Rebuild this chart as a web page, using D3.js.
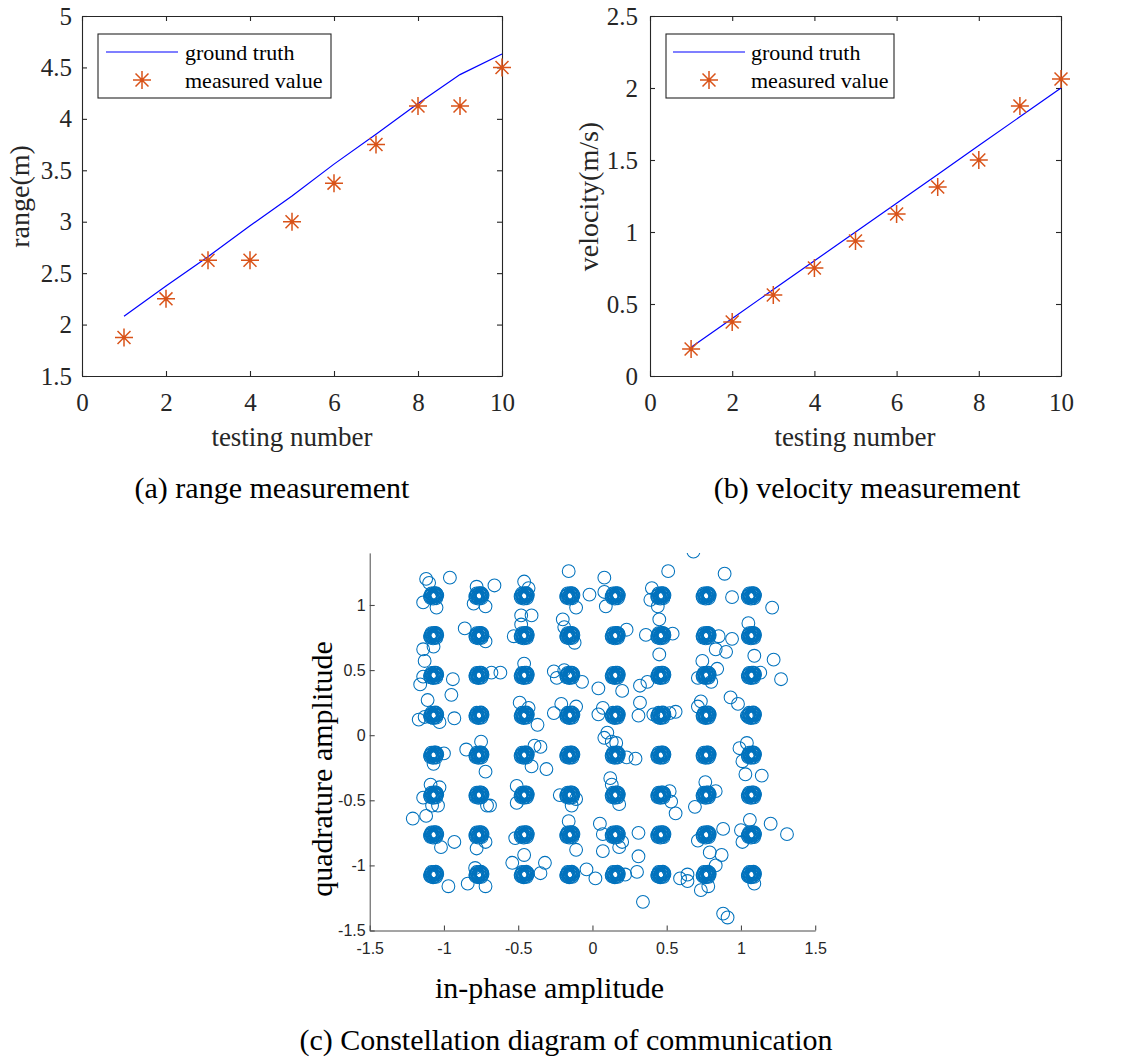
<!DOCTYPE html>
<html><head><meta charset="utf-8">
<script src="https://cdn.jsdelivr.net/npm/d3@7"></script>
<style>body{margin:0;background:#fff}svg{display:block}</style>
</head><body>
<svg id="fig" width="1132" height="1059"></svg>
<script>
// ---------- data ----------
const testNumbers = [1,2,3,4,5,6,7,8,9,10];
const rangeTruth = [2.08,2.375,2.66,2.96,3.25,3.56,3.85,4.15,4.43,4.63];
const rangeMeasured = [1.875,2.25,2.625,2.625,3.0,3.375,3.75,4.125,4.125,4.5];
const velocityTruth = [0.2,0.4,0.6,0.8,1.0,1.2,1.4,1.6,1.8,2.0];
const velocityMeasured = [0.1875,0.375,0.5625,0.75,0.9375,1.125,1.3125,1.5,1.875,2.0625];
const xTicksAB = [0,2,4,6,8,10];
const rangeTicks = [1.5,2,2.5,3,3.5,4,4.5,5];
const velocityTicks = [0,0.5,1,1.5,2,2.5];
const legendLabels = ["ground truth","measured value"];

const qamLevels = [-1.07,-0.765,-0.46,-0.153,0.153,0.46,0.765,1.07];
const coreOffsets = [[0,0],[0.014,0.007],[-0.013,0.01],[0.009,-0.014],[-0.011,-0.012],[0.02,-0.002],
  [-0.02,0.003],[0.004,0.02],[-0.003,-0.021],[0.022,0.014],[-0.021,-0.015],[0.007,0.005],[-0.006,-0.005],
  [0.015,0.021],[-0.015,0.019],[0.018,-0.018],[-0.024,-0.004],[0.025,0.004]];
const outlierPoints = [
 [-1.12,1.20],[-1.10,1.17],[-0.96,1.21],[-1.14,1.02],[-1.05,0.98],[-0.66,1.15],[-0.80,1.01],[-0.72,0.99],
 [-0.78,1.14],[-0.46,1.18],[-0.43,1.13],[-0.48,0.92],[-0.41,0.92],[-0.16,1.26],[-0.02,1.08],[-0.11,0.98],
 [-1.14,0.66],[-1.13,0.57],[-1.07,0.68],[-0.86,0.82],[-0.72,0.72],[-0.53,0.76],[-0.48,0.85],[-0.20,0.89],
 [-0.19,0.83],[-0.12,0.71],[-1.16,0.39],[-1.14,0.45],[-0.94,0.43],[-0.95,0.31],[-0.68,0.48],[-0.62,0.48],
 [-0.46,0.55],[-0.26,0.49],[-0.24,0.44],[-0.19,0.50],[-0.07,0.41],[0.04,0.36],[-1.17,0.12],[-1.11,0.27],
 [-1.13,0.14],[-1.03,0.10],[-0.93,0.13],[-0.49,0.25],[-0.43,0.21],[-0.37,0.08],[-0.26,0.17],[-0.21,0.24],
 [-0.11,0.22],[0.08,1.21],[0.08,1.10],[0.09,0.99],[0.51,1.26],[0.40,1.13],[0.39,1.04],[0.44,0.99],
 [0.45,0.89],[0.89,1.24],[0.94,1.06],[1.21,0.98],[0.68,1.41],[0.23,0.81],[0.36,0.77],[0.54,0.78],
 [0.45,0.62],[0.85,0.76],[0.94,0.74],[0.83,0.66],[0.90,0.64],[1.05,0.86],[1.09,0.61],[1.22,0.58],
 [0.20,0.34],[0.32,0.38],[0.37,0.41],[0.74,0.57],[0.71,0.44],[0.84,0.51],[0.80,0.41],[1.13,0.48],
 [1.27,0.43],[0.07,0.21],[0.04,0.16],[0.10,0.02],[0.32,0.25],[0.31,0.15],[0.41,0.16],[0.52,0.17],
 [0.56,0.18],[0.73,0.26],[0.71,0.22],[0.93,0.29],[0.98,0.24],[1.04,0.15],[0.08,-0.02],[0.13,-0.05],
 [0.16,-0.06],[-1.07,-0.22],[-1.00,-0.14],[-0.85,-0.11],[-0.75,-0.05],[-0.72,-0.28],[-0.39,-0.08],[-0.35,-0.09],
 [-0.41,-0.24],[-0.31,-0.26],[-1.14,-0.48],[-1.09,-0.38],[-1.03,-0.40],[-1.08,-0.54],[-1.04,-0.54],[-0.71,-0.54],
 [-0.69,-0.54],[-0.51,-0.39],[-0.51,-0.52],[-0.22,-0.46],[-0.14,-0.54],[-0.11,-0.49],[-1.21,-0.64],[-1.12,-0.62],
 [-1.02,-0.86],[-0.93,-0.82],[-0.78,-0.87],[-0.72,-0.82],[-0.52,-0.79],[-0.16,-0.66],[-0.11,-0.88],[0.05,-0.68],
 [0.07,-0.76],[0.07,-0.89],[-0.97,-1.16],[-0.84,-1.14],[-0.72,-1.16],[-0.79,-1.02],[-0.54,-0.98],[-0.46,-0.92],
 [-0.35,-1.06],[-0.32,-0.98],[-0.04,-1.03],[0.02,-1.10],[0.23,-0.17],[0.29,-0.18],[0.99,-0.10],[1.04,-0.06],
 [1.01,-0.20],[1.03,-0.30],[1.14,-0.31],[0.12,-0.33],[0.13,-0.38],[0.18,-0.53],[0.52,-0.43],[0.53,-0.51],
 [0.56,-0.60],[0.69,-0.55],[0.76,-0.36],[0.83,-0.43],[0.18,-0.86],[0.20,-0.82],[0.31,-0.75],[0.31,-0.93],
 [0.71,-0.81],[0.79,-0.90],[0.88,-0.72],[0.87,-0.92],[1.00,-0.73],[1.01,-0.82],[1.06,-0.65],[1.20,-0.68],
 [1.31,-0.76],[0.22,-1.07],[0.30,-1.05],[0.34,-1.28],[0.59,-1.10],[0.64,-1.07],[0.64,-1.12],[0.83,-1.00],
 [0.78,-1.16],[0.73,-1.19],[0.88,-1.37],[0.91,-1.40],[1.09,-1.14]
];
const iqTicks = [-1.5,-1,-0.5,0,0.5,1,1.5];
const iqTickLabels = ["-1.5","-1","-0.5","0","0.5","1","1.5"];

// ---------- styles ----------
const SERIF = "'Liberation Serif','Times New Roman',serif";
const SANS = "'Liberation Sans',Arial,Helvetica,sans-serif";
const AXC = "#262626";
const svg = d3.select("#fig");
svg.append("rect").attr("width",1132).attr("height",1059).attr("fill","#fff");

function star(g, cx, cy, r, color){
  const d = r*0.72;
  const p = `M${cx-r},${cy}L${cx+r},${cy}M${cx},${cy-r}L${cx},${cy+r}M${cx-d},${cy-d}L${cx+d},${cy+d}M${cx-d},${cy+d}L${cx+d},${cy-d}`;
  g.append("path").attr("d",p).attr("stroke",color).attr("stroke-width",1.5).attr("fill","none");
}

function styleAxis(sel, fontSize, family){
  sel.selectAll("path.domain").attr("stroke",AXC).attr("stroke-width",1.1);
  sel.selectAll(".tick line").attr("stroke",AXC).attr("stroke-width",1.1);
  sel.selectAll(".tick text").attr("fill",AXC).style("font-family",family).style("font-size",fontSize+"px");
}

function linePanel(o){
  const x = d3.scaleLinear().domain([0,10]).range([o.left,o.right]);
  const y = d3.scaleLinear().domain(o.yDomain).range([o.bottom,o.top]);
  const g = svg.append("g");
  const fmt = d => String(d);
  const ax = [
    g.append("g").attr("transform",`translate(0,${o.bottom})`).call(d3.axisBottom(x).tickValues(xTicksAB).tickFormat(fmt).tickSizeInner(-5).tickSizeOuter(0).tickPadding(17)),
    g.append("g").attr("transform",`translate(0,${o.top})`).call(d3.axisTop(x).tickValues(xTicksAB).tickFormat("").tickSizeInner(-5).tickSizeOuter(0)),
    g.append("g").attr("transform",`translate(${o.left},0)`).call(d3.axisLeft(y).tickValues(o.yTicks).tickFormat(fmt).tickSizeInner(-5).tickSizeOuter(0).tickPadding(o.yPad)),
    g.append("g").attr("transform",`translate(${o.right},0)`).call(d3.axisRight(y).tickValues(o.yTicks).tickFormat("").tickSizeInner(-5).tickSizeOuter(0))
  ];
  ax.forEach(a=>styleAxis(a,25,SERIF));
  const line = d3.line().x((d,i)=>x(testNumbers[i])).y(d=>y(d));
  g.append("path").datum(o.truth).attr("d",line).attr("fill","none").attr("stroke","#0000ff").attr("stroke-width",1.2);
  o.measured.forEach((v,i)=>star(g,x(testNumbers[i]),y(v),9,"#D95319"));
  const L = o.legend;
  g.append("rect").attr("x",L.x0).attr("y",34).attr("width",L.x1-L.x0).attr("height",64).attr("fill","#fff").attr("stroke",AXC).attr("stroke-width",1.1);
  g.append("line").attr("x1",L.lx0).attr("x2",L.lx1).attr("y1",52).attr("y2",52).attr("stroke","#0000ff").attr("stroke-width",1.2);
  star(g,L.sx,80,9,"#D95319");
  legendLabels.forEach((t,i)=>g.append("text").attr("x",L.tx).attr("y",i?88:60).text(t)
    .style("font-family",SERIF).style("font-size","22px").attr("fill","#000"));
  g.append("text").attr("x",o.xlabX).attr("y",446).attr("text-anchor","middle").text("testing number")
    .style("font-family",SERIF).style("font-size","27px").attr("fill","#262626");
  g.append("text").attr("transform",`translate(${o.ylabX},196.5) rotate(-90)`).attr("text-anchor","middle").text(o.ylabel)
    .style("font-family",SERIF).style("font-size","28px").attr("fill","#262626");
  g.append("text").attr("x",o.capX).attr("y",498).attr("text-anchor","middle").text(o.caption)
    .style("font-family",SERIF).style("font-size","30px").attr("fill","#000");
}

linePanel({left:82,right:502,top:16,bottom:376,yDomain:[1.5,5],yTicks:rangeTicks,yPad:10,
  truth:rangeTruth,measured:rangeMeasured,ylabel:"range(m)",ylabX:29,xlabX:292,capX:272,
  caption:"(a) range measurement",legend:{x0:98,x1:331,lx0:106,lx1:178,sx:142,tx:185}});
linePanel({left:650,right:1061,top:16,bottom:376,yDomain:[0,2.5],yTicks:velocityTicks,yPad:12,
  truth:velocityTruth,measured:velocityMeasured,ylabel:"velocity(m/s)",ylabX:598,xlabX:855,capX:867,
  caption:"(b) velocity measurement",legend:{x0:666,x1:894,lx0:673,lx1:745,sx:709,tx:751}});

// ---------- constellation ----------
(function(){
  const x = d3.scaleLinear().domain([-1.5,1.5]).range([369.7,815.2]);
  const y = d3.scaleLinear().domain([-1.5,1.4]).range([930.5,552.9]);
  const g = svg.append("g");
  svg.append("defs").append("clipPath").attr("id","cclip").append("rect")
    .attr("x",x(-1.5)).attr("y",y(1.4)).attr("width",x(1.5)-x(-1.5)).attr("height",y(-1.5)-y(1.4));
  const pts = [];
  qamLevels.forEach(qi=>qamLevels.forEach(qq=>coreOffsets.forEach(o=>pts.push([qi+o[0],qq+o[1]]))));
  outlierPoints.forEach(p=>pts.push(p));
  g.append("g").attr("clip-path","url(#cclip)").selectAll("circle").data(pts).join("circle")
    .attr("cx",d=>x(d[0])).attr("cy",d=>y(d[1])).attr("r",6.4)
    .attr("fill","none").attr("stroke","#0072BD").attr("stroke-width",1.05);
  const ax1 = g.append("g").attr("transform",`translate(0,${y(-1.5)})`)
    .call(d3.axisBottom(x).tickValues(iqTicks).tickFormat((d,i)=>iqTickLabels[i]).tickSizeInner(-5).tickSizeOuter(0).tickPadding(12));
  const ax2 = g.append("g").attr("transform",`translate(${x(-1.5)},0)`)
    .call(d3.axisLeft(y).tickValues([-1.5,-1,-0.5,0,0.5,1]).tickFormat(d=>iqTickLabels[iqTicks.indexOf(d)]).tickSizeInner(-5).tickSizeOuter(0).tickPadding(4));
  [ax1,ax2].forEach(a=>{styleAxis(a,16,SANS);a.selectAll("path.domain").attr("stroke","#4a4a4a").attr("stroke-width",1);a.selectAll(".tick line").attr("stroke","#4a4a4a");});
  g.append("text").attr("x",549.5).attr("y",998).attr("text-anchor","middle").text("in-phase amplitude")
    .style("font-family",SERIF).style("font-size","30px").attr("fill","#000");
  g.append("text").attr("transform",`translate(332,769) rotate(-90)`).attr("text-anchor","middle").text("quadrature amplitude")
    .style("font-family",SERIF).style("font-size","30px").attr("fill","#000");
  g.append("text").attr("x",566).attr("y",1050).attr("text-anchor","middle").text("(c) Constellation diagram of communication")
    .style("font-family",SERIF).style("font-size","30px").attr("fill","#000");
})();
</script>
</body></html>
